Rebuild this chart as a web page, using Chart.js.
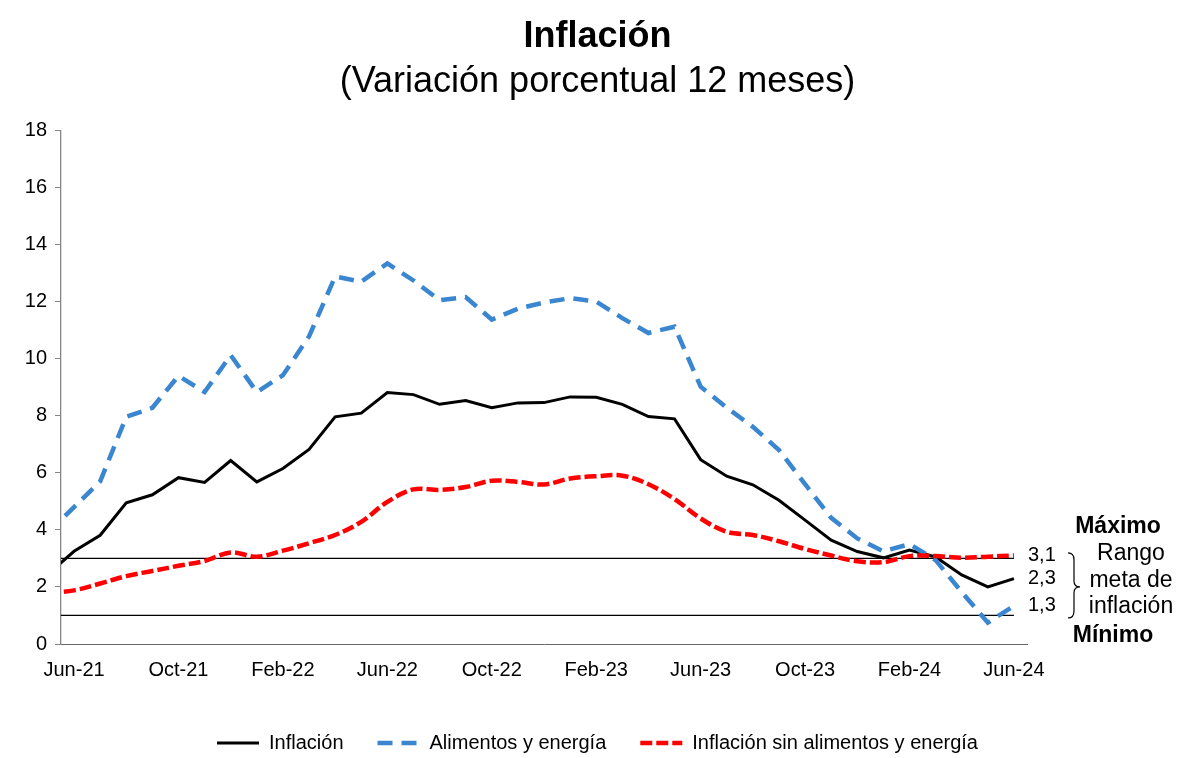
<!DOCTYPE html>
<html lang="es">
<head>
<meta charset="utf-8">
<title>Inflación</title>
<script src="https://cdn.jsdelivr.net/npm/chart.js@4.4.1/dist/chart.umd.min.js"></script>
<style>
    html, body { margin: 0; padding: 0; background: #fff; }
    #wrap { width: 1195px; height: 758px; position: relative; }
</style>
</head>
<body>
<div id="wrap"><canvas id="inflacionChart"></canvas></div>
<script>
// Monthly data, May-21 is only there so the lines run to the left edge
const months = ['May-21', 'Jun-21', 'Jul-21', 'Aug-21', 'Sep-21', 'Oct-21', 'Nov-21', 'Dec-21',
    'Jan-22', 'Feb-22', 'Mar-22', 'Apr-22', 'May-22', 'Jun-22', 'Jul-22', 'Aug-22', 'Sep-22', 'Oct-22', 'Nov-22', 'Dec-22',
    'Jan-23', 'Feb-23', 'Mar-23', 'Apr-23', 'May-23', 'Jun-23', 'Jul-23', 'Aug-23', 'Sep-23', 'Oct-23', 'Nov-23', 'Dec-23',
    'Jan-24', 'Feb-24', 'Mar-24', 'Apr-24', 'May-24', 'Jun-24'];

const inflacion = [2.45, 3.25, 3.81, 4.95, 5.23, 5.83, 5.66, 6.43,
    5.68, 6.15, 6.82, 7.96, 8.09, 8.81, 8.74, 8.40, 8.53, 8.28, 8.45, 8.46,
    8.66, 8.65, 8.40, 7.97, 7.89, 6.46, 5.88, 5.58, 5.04, 4.34, 3.64, 3.24,
    3.02, 3.29, 3.05, 2.42, 2.00, 2.29];

const alimentosEnergia = [3.90, 4.80, 5.70, 7.96, 8.28, 9.40, 8.83, 10.12,
    8.83, 9.42, 10.78, 12.88, 12.70, 13.34, 12.74, 12.05, 12.16, 11.37, 11.75, 11.97,
    12.12, 12.00, 11.42, 10.90, 11.12, 9.02, 8.28, 7.61, 6.80, 5.60, 4.42, 3.70,
    3.25, 3.50, 2.94, 1.82, 0.75, 1.34];

const sinAlimentosEnergia = [1.78, 1.88, 2.12, 2.38, 2.56, 2.74, 2.91, 3.21,
    3.06, 3.27, 3.53, 3.82, 4.28, 4.98, 5.42, 5.40, 5.50, 5.72, 5.68, 5.59,
    5.80, 5.88, 5.90, 5.60, 5.08, 4.40, 3.93, 3.82, 3.60, 3.33, 3.10, 2.90,
    2.87, 3.08, 3.08, 3.02, 3.06, 3.10];

const tickLabels = ['Jun-21', 'Oct-21', 'Feb-22', 'Jun-22', 'Oct-22', 'Feb-23', 'Jun-23', 'Oct-23', 'Feb-24', 'Jun-24'];

// Target range (Máximo / Mínimo)
const rangoMax = 3;
const rangoMin = 1;

const FONT = '"Liberation Sans", Arial, sans-serif';

// Draws the last values, the brace and the range notes on the right
const rangoPlugin = {
    id: 'rangoPlugin',
    afterDraw(chart) {
        const ctx = chart.ctx;
        const y = chart.scales.y;
        const right = chart.chartArea.right;
        const last = arr => arr[arr.length - 1];
        const fmt = v => v.toFixed(1).replace('.', ',');

        ctx.save();
        ctx.fillStyle = '#000';
        ctx.textBaseline = 'middle';
        ctx.font = '20px ' + FONT;
        ctx.textAlign = 'left';
        ctx.fillText(fmt(last(sinAlimentosEnergia)), right + 1, y.getPixelForValue(last(sinAlimentosEnergia)));
        ctx.fillText(fmt(last(inflacion)), right + 1, y.getPixelForValue(last(inflacion)));
        ctx.fillText(fmt(last(alimentosEnergia)), right + 1, y.getPixelForValue(last(alimentosEnergia)));

        const top = y.getPixelForValue(rangoMax);
        const bottom = y.getPixelForValue(rangoMin);
        const mid = (top + bottom) / 2;

        // brace
        const bx = right + 41;
        const b0 = mid - 34;
        const b1 = mid + 31;
        ctx.strokeStyle = '#000';
        ctx.lineWidth = 1.2;
        ctx.beginPath();
        ctx.moveTo(bx, b0);
        ctx.quadraticCurveTo(bx + 6, b0, bx + 6, b0 + 7);
        ctx.lineTo(bx + 6, mid - 6);
        ctx.quadraticCurveTo(bx + 6, mid, bx + 12, mid);
        ctx.quadraticCurveTo(bx + 6, mid, bx + 6, mid + 6);
        ctx.lineTo(bx + 6, b1 - 7);
        ctx.quadraticCurveTo(bx + 6, b1, bx, b1);
        ctx.stroke();

        ctx.textAlign = 'center';
        ctx.font = '23px ' + FONT;
        ctx.fillText('Rango', right + 104, mid - 33);
        ctx.fillText('meta de', right + 104, mid - 6);
        ctx.fillText('inflación', right + 104, mid + 20);

        ctx.font = 'bold 23px ' + FONT;
        ctx.fillText('Máximo', right + 91, top - 32);
        ctx.fillText('Mínimo', right + 86, bottom + 20);
        ctx.restore();
    }
};

function rangeLine(value) {
    return {
        label: '',
        data: months.map(() => value),
        borderColor: '#000',
        borderWidth: 1.3,
        pointRadius: 0,
        order: 10,
        clip: 0
    };
}

// Legend lines take dash and width from the dataset line
function legendLabels(chart) {
    const items = Chart.defaults.plugins.legend.labels.generateLabels(chart);
    return items.map(item => {
        const ds = chart.data.datasets[item.datasetIndex];
        item.lineDash = ds.borderDash || [];
        item.lineWidth = ds.borderWidth;
        item.strokeStyle = ds.borderColor;
        item.fillStyle = ds.borderColor;
        return item;
    });
}

document.addEventListener('DOMContentLoaded', function () {
    const ctx = document.getElementById('inflacionChart').getContext('2d');

    new Chart(ctx, {
        type: 'line',
        data: {
            labels: months,
            datasets: [{
                label: 'Inflación',
                data: inflacion,
                borderColor: '#000',
                backgroundColor: '#000',
                borderWidth: 3,
                pointRadius: 0,
                order: 3,
                clip: 0
            }, {
                label: 'Alimentos y energía',
                data: alimentosEnergia,
                borderColor: '#3a86d0',
                backgroundColor: '#3a86d0',
                borderWidth: 4.5,
                borderDash: [15, 9],
                pointRadius: 0,
                order: 2,
                clip: 0
            }, {
                label: 'Inflación sin alimentos y energía',
                data: sinAlimentosEnergia,
                borderColor: '#ff0000',
                backgroundColor: '#ff0000',
                borderWidth: 4.5,
                borderDash: [12, 4],
                tension: 0.35,
                pointRadius: 0,
                order: 1,
                clip: 0
            },
            rangeLine(rangoMax),
            rangeLine(rangoMin)]
        },
        options: {
            responsive: true,
            maintainAspectRatio: false,
            animation: false,
            layout: { padding: { top: 0, bottom: -5, left: 0, right: 0 } },
            plugins: {
                title: {
                    display: true,
                    text: 'Inflación',
                    color: '#000',
                    font: { family: FONT, size: 36, weight: 'bold', lineHeight: 1.2 },
                    padding: { top: 15, bottom: 0 }
                },
                subtitle: {
                    display: true,
                    text: '(Variación porcentual 12 meses)',
                    color: '#000',
                    font: { family: FONT, size: 36, weight: 'normal', lineHeight: 1.2 },
                    padding: { top: 2, bottom: 27 }
                },
                legend: {
                    position: 'bottom',
                    labels: {
                        color: '#000',
                        font: { family: FONT, size: 20 },
                        usePointStyle: true,
                        pointStyle: 'line',
                        pointStyleWidth: 42,
                        boxHeight: 20,
                        padding: 34,
                        generateLabels: legendLabels,
                        filter: item => item.text !== '',
                        sort: (a, b) => a.datasetIndex - b.datasetIndex
                    }
                },
                tooltip: { enabled: false }
            },
            scales: {
                x: {
                    type: 'category',
                    min: 'Jun-21',
                    offset: true,
                    afterFit: scale => { scale.height = 55; },
                    grid: { display: false, drawTicks: false },
                    border: { display: true, color: '#666', width: 1 },
                    ticks: {
                        autoSkip: false,
                        maxRotation: 0,
                        padding: 14,
                        color: '#000',
                        font: { family: FONT, size: 20 },
                        callback: function (value) {
                            const lbl = this.getLabelForValue(value);
                            return tickLabels.includes(lbl) ? lbl : '';
                        }
                    }
                },
                y: {
                    min: 0,
                    max: 18,
                    afterFit: scale => { scale.width = 61; },
                    grid: { drawOnChartArea: false, drawTicks: true, tickLength: 6, tickColor: '#868686' },
                    border: { display: true, color: '#868686', width: 1.3 },
                    ticks: {
                        stepSize: 2,
                        padding: 8,
                        color: '#000',
                        font: { family: FONT, size: 20 }
                    }
                },
                // empty axis that keeps room for the notes on the right
                yRight: {
                    position: 'right',
                    display: true,
                    afterFit: scale => { scale.width = 168; },
                    grid: { display: false },
                    border: { display: false },
                    ticks: { display: false }
                }
            }
        },
        plugins: [rangoPlugin]
    });
});
</script>
</body>
</html>
